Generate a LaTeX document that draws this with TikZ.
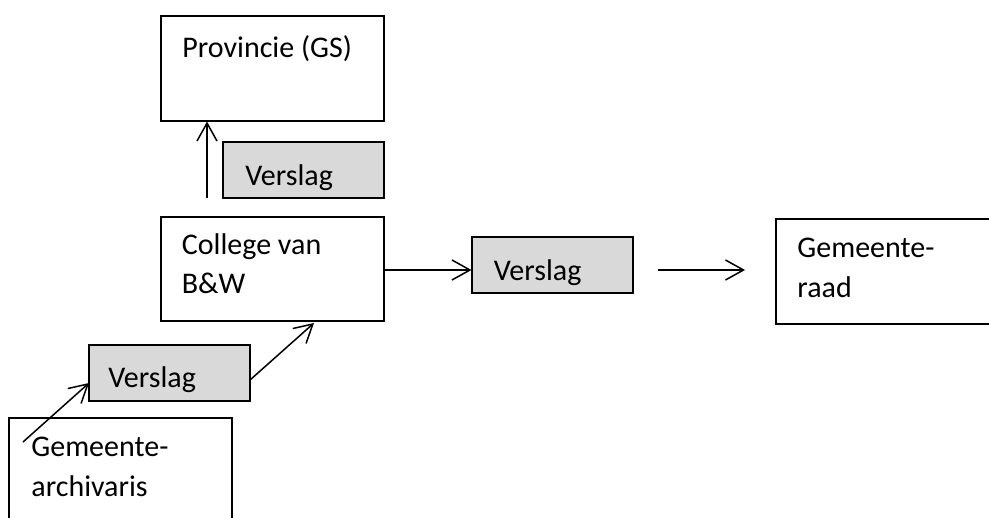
\documentclass[tikz,border=0pt]{standalone}
\usepackage{fontspec}
\setmainfont{Carlito}
\usetikzlibrary{arrows.meta, calc}

\tikzset{
  box/.style={draw, line width=1pt, inner sep=0pt, outer sep=0pt, minimum width=111.5pt, minimum height=52.5pt},
  verslag/.style={draw, line width=1pt, fill=black!15, inner sep=0pt, outer sep=0pt, minimum width=80.5pt, minimum height=28pt},
  txt/.style={anchor=base west, inner sep=0pt, text width=100pt, align=flush left, font=\fontsize{15}{20}\selectfont},
  arr/.style={line width=0.75pt, -{Straight Barb[length=9pt, width=10pt, line width=0.75pt]}}
}

\begin{document}
\begin{tikzpicture}[x=0.5pt, y=-0.5pt]
        \useasboundingbox (0,0) rectangle (989,518);

        % boxes
        \node[box] (prov) at (272.5,69) {};
        \node[txt] at ($(prov.north west)+(21,41)$) {Provincie (GS)};

        \node[verslag] (vtop) at (303.5,170) {};
        \node[txt] at ($(vtop.west)+(22,15)$) {Verslag};

        \node[box, minimum height=52pt] (college) at (272,269) {};
        \node[txt] at ($(college.north west)+(21,37)$) {College van\\B\&W};

        \node[verslag] (vmid) at (552,265) {};
        \node[txt] at ($(vmid.west)+(22,15)$) {Verslag};

        \node[box, minimum width=112pt] (raad) at (888,271.5) {};
        \node[txt] at ($(raad.north west)+(21,38)$) {Gemeente-\\raad};

        \node[verslag] (vbot) at (169.5,372.5) {};
        \node[txt] at ($(vbot.west)+(19,15)$) {Verslag};

        \node[box, minimum height=56pt] (arch) at (120.5,474) {};
        \node[txt] at ($(arch.north west)+(22,38)$) {Gemeente-\\archivaris};

        % arrows
        \coordinate (upstart) at (207,198);
        \draw[arr] (upstart) -- (upstart |- prov.south);

        \draw[arr] (college.east |- 0,270) -- (vmid.west |- 0,270);

        \coordinate (rstart) at (658,270);
        \coordinate (rend) at (745,270);
        \draw[arr] (rstart) -- (rend);

        \draw[arr] ($(vbot.east)+(0,7.5)$) -- ($(college.south)+(42,2)$);

        \draw[arr] ($(arch.north west)+(14,24)$) -- ($(vbot.west)+(0,10.5)$);

    \end{tikzpicture}
\end{document}
